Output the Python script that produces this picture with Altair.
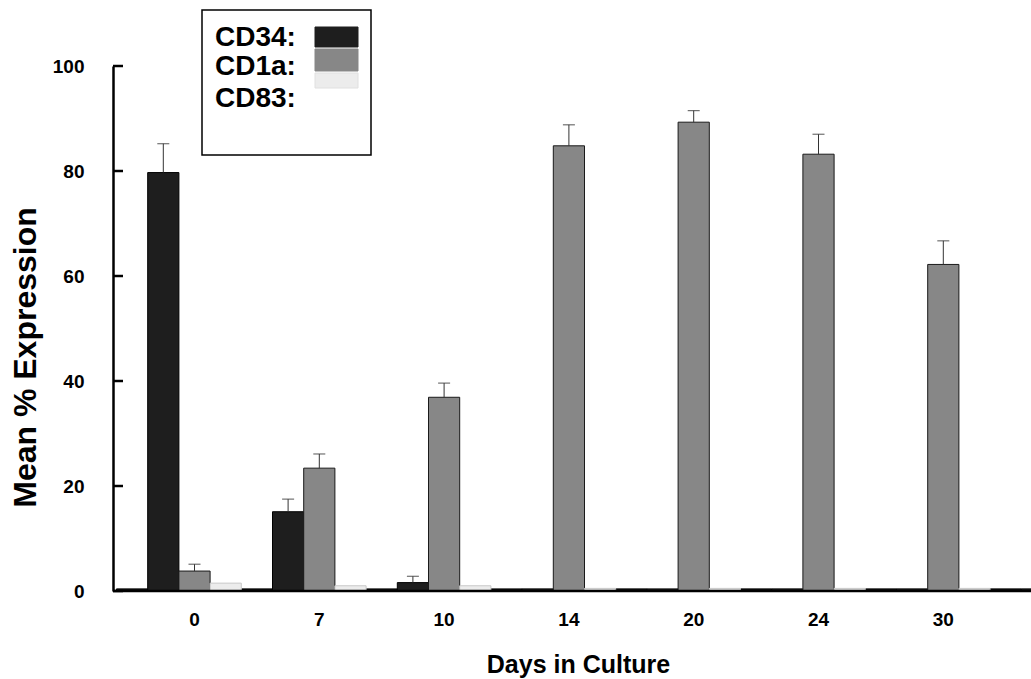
import altair as alt
import pandas as pd

# Days in culture (the last group runs off the right edge of the figure)
days = ["0", "7", "10", "14", "20", "24", "30", "35"]
shown_days = ["0", "7", "10", "14", "20", "24", "30"]

# Bar order within each day group
series = ["Isotype", "CD34", "CD1a", "CD83"]
legend_series = ["CD34", "CD1a", "CD83"]

# Mean % expression per marker
isotype = [0.4, 0.4, 0.4, 0.4, 0.4, 0.4, 0.4, 0.4]
cd34 = [79.7, 15.1, 1.6, 0.4, 0.4, 0.4, 0.4, 0.4]
cd34_err = [5.5, 2.4, 1.2]
cd1a = [3.8, 23.4, 36.9, 84.8, 89.3, 83.2, 62.2]
cd1a_err = [1.3, 2.7, 2.7, 4.0, 2.2, 3.8, 4.5]
cd83 = [1.5, 1.0, 1.0, 0.5, 0.5, 0.5, 0.5]

y_ticks = [0, 20, 40, 60, 80, 100]

fills = ["#111111", "#1e1e1e", "#878787", "#ececec"]
strokes = ["#000000", "#000000", "#1a1a1a", "#c8c8c8"]

FONT = "Liberation Sans"

rows = []
for name, vals in zip(series, [isotype, cd34, cd1a, cd83]):
    for d, v in zip(days, vals):
        rows.append({"day": d, "series": name, "value": v})
bars_df = pd.DataFrame(rows)

err_rows = []
for name, vals, errs in [("CD34", cd34, cd34_err), ("CD1a", cd1a, cd1a_err)]:
    for d, v, e in zip(days, vals, errs):
        err_rows.append({"day": d, "series": name, "lo": v, "hi": v + e})
err_df = pd.DataFrame(err_rows)

W, H = 918, 525

x_scale = alt.Scale(domain=days, range=[3.5, 3.5 + 8 * 124.8], paddingInner=0, paddingOuter=0)
off_scale = alt.Scale(domain=series, paddingInner=0, paddingOuter=0)
y_scale = alt.Scale(domain=[0, 100], nice=False)

x_axis = alt.Axis(
    values=shown_days, labelAngle=0, ticks=False, domain=False, grid=False,
    labelOffset=15.6, labelPadding=19, labelFont=FONT, labelFontSize=19,
    labelFontWeight="bold", labelColor="#000",
    title="Days in Culture", titleFont=FONT, titleFontSize=25, titleFontWeight="bold",
    titleColor="#000", titleX=465, titleY=81, titleBaseline="alphabetic",
)
y_axis = alt.Axis(
    values=y_ticks, ticks=False, grid=False, domainColor="#000", domainWidth=2.5,
    labelPadding=29, labelFont=FONT, labelFontSize=19, labelFontWeight="bold",
    labelColor="#000",
    title="Mean % Expression", titleFont=FONT, titleFontSize=32, titleFontWeight="bold",
    titleColor="#000", titleAngle=270, titleX=-78, titleY=291, titleBaseline="alphabetic",
)

bars = alt.Chart(bars_df).mark_bar(strokeWidth=1).encode(
    x=alt.X("day:N", sort=days, scale=x_scale, axis=x_axis),
    xOffset=alt.XOffset("series:N", sort=series, scale=off_scale),
    y=alt.Y("value:Q", scale=y_scale, axis=y_axis),
    fill=alt.Fill("series:N", scale=alt.Scale(domain=series, range=fills), legend=None),
    stroke=alt.Stroke("series:N", scale=alt.Scale(domain=series, range=strokes), legend=None),
)

whiskers = alt.Chart(err_df).mark_rule(color="#333", strokeWidth=1).encode(
    x=alt.X("day:N", sort=days, scale=x_scale),
    xOffset=alt.XOffset("series:N", sort=series, scale=off_scale),
    y=alt.Y("lo:Q", scale=y_scale),
    y2="hi:Q",
)
caps = alt.Chart(err_df).mark_tick(color="#333", size=12, thickness=1.2, orient="horizontal").encode(
    x=alt.X("day:N", sort=days, scale=x_scale),
    xOffset=alt.XOffset("series:N", sort=series, scale=off_scale),
    y=alt.Y("hi:Q", scale=y_scale),
)

# Baseline along the x axis and inward-facing y ticks
baseline = alt.Chart(pd.DataFrame({"v": [0]})).mark_rule(color="#000", strokeWidth=2.5).encode(
    y=alt.Y("v:Q", scale=y_scale), x=alt.value(0), x2=alt.value(W)
)
inner_ticks = alt.Chart(pd.DataFrame({"v": y_ticks})).mark_rule(color="#000", strokeWidth=2.5).encode(
    y=alt.Y("v:Q", scale=y_scale), x=alt.value(0), x2=alt.value(10)
)

# Legend box: label on the left, swatch on the right
one = pd.DataFrame({"k": [0]})
legend_layers = [
    alt.Chart(one).mark_rect(fill="white", stroke="#000", strokeWidth=1.5).encode(
        x=alt.value(89), x2=alt.value(258), y=alt.value(-56), y2=alt.value(89)
    )
]
row_base = [-20, 9, 41]
row_swatch = [(-39, -19), (-17, 5), (7, 22)]
for i, name in enumerate(legend_series):
    legend_layers.append(
        alt.Chart(one).mark_text(
            text=name + ":", align="left", baseline="alphabetic", font=FONT,
            fontSize=28, fontWeight="bold", color="#000",
        ).encode(x=alt.value(102), y=alt.value(row_base[i]))
    )
    fill = fills[series.index(name)]
    legend_layers.append(
        alt.Chart(one).mark_rect(fill=fill, stroke=fill if i < 2 else "#e0e0e0", strokeWidth=1).encode(
            x=alt.value(202), x2=alt.value(245),
            y=alt.value(row_swatch[i][0]), y2=alt.value(row_swatch[i][1]),
        )
    )

chart = alt.layer(
    bars, whiskers, caps, baseline, inner_ticks, *legend_layers
).properties(
    width=W, height=H,
    background="white",
    autosize=alt.AutoSizeParams(type="none"),
    padding={"left": 113, "top": 66, "right": 0, "bottom": 88},
).configure_view(stroke="transparent", strokeWidth=0)

chart.save("out.html", embed_options={"renderer": "svg", "actions": False})
